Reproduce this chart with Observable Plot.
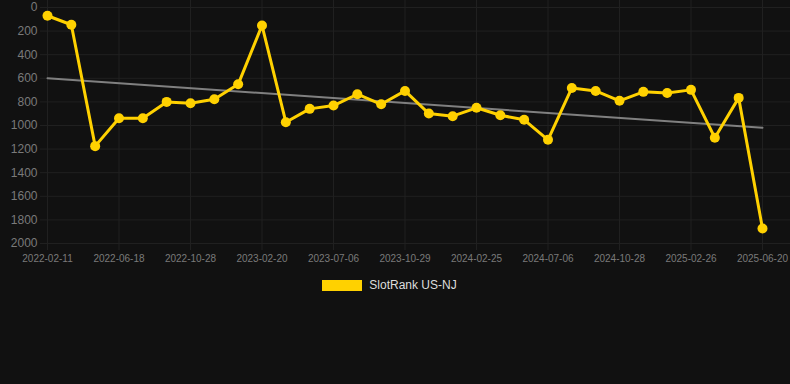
<!DOCTYPE html>
<html>
<head>
<meta charset="utf-8">
<script src="https://cdn.jsdelivr.net/npm/d3@7"></script>
<script src="https://cdn.jsdelivr.net/npm/@observablehq/plot@0.6"></script>
<style>
  html, body { margin: 0; padding: 0; background: #111111; }
  body { width: 790px; height: 384px; overflow: hidden; font-family: "Liberation Sans", Arial, Helvetica, sans-serif; }
  #legend { display: flex; justify-content: center; align-items: center; margin-top: 8px; padding-right: 11px; color: #dddddd; font-size: 12px; }
  #legend .sw { width: 40px; height: 11px; margin-right: 7px; }
</style>
</head>
<body>
<div id="chart"></div>
<div id="legend"></div>
<script>
const seriesName = "SlotRank US-NJ";
const seriesColor = "#FFD100";
const xTickLabels = ["2022-02-11","2022-06-18","2022-10-28","2023-02-20","2023-07-06","2023-10-29","2024-02-25","2024-07-06","2024-10-28","2025-02-26","2025-06-20"];
const ranks = [70,146,1175,938,938,800,811,777,651,152,972,859,831,735,820,707,899,921,850,913,952,1121,682,707,791,715,724,698,1104,766,1873];
const yTicks = [0,200,400,600,800,1000,1200,1400,1600,1800,2000];

const data = ranks.map((v, i) => ({i, v}));
const xTicks = xTickLabels.map((_, k) => k * 3);
const gridColor = "#202020";
const textColor = "#7a7a7a";

const chart = Plot.plot({
  width: 790,
  height: 270,
  marginLeft: 40,
  marginRight: 0,
  marginTop: 0,
  marginBottom: 27,
  style: {background: "#111111", fontFamily: "'Liberation Sans', Arial, Helvetica, sans-serif"},
  x: {type: "linear", domain: [0, ranks.length - 1], insetLeft: 7, insetRight: 28},
  y: {domain: [0, 2000], reverse: true, insetTop: 7},
  marks: [
    Plot.gridY(yTicks, {stroke: gridColor, strokeOpacity: 1}),
    Plot.gridX(xTicks, {stroke: gridColor, strokeOpacity: 1}),
    Plot.axisY(yTicks, {tickSize: 0, tickPadding: 3, fontSize: 12, fill: textColor, label: null,
      tickFormat: (d) => String(d)}),
    Plot.axisX(xTicks, {tickSize: 7, tickPadding: 4, fontSize: 10, fill: textColor, stroke: gridColor, label: null,
      tickFormat: (d) => xTickLabels[Math.round(d / 3)]}),
    Plot.linearRegressionY(data, {x: "i", y: "v", ci: 0, stroke: "#808080", strokeWidth: 2}),
    Plot.line(data, {x: "i", y: "v", stroke: seriesColor, strokeWidth: 3}),
    Plot.dot(data, {x: "i", y: "v", r: 5, fill: seriesColor, stroke: null})
  ]
});
document.getElementById("chart").appendChild(chart);

const lg = document.getElementById("legend");
const sw = document.createElement("span");
sw.className = "sw";
sw.style.background = seriesColor;
const lt = document.createElement("span");
lt.textContent = seriesName;
lg.appendChild(sw);
lg.appendChild(lt);
</script>
</body>
</html>
